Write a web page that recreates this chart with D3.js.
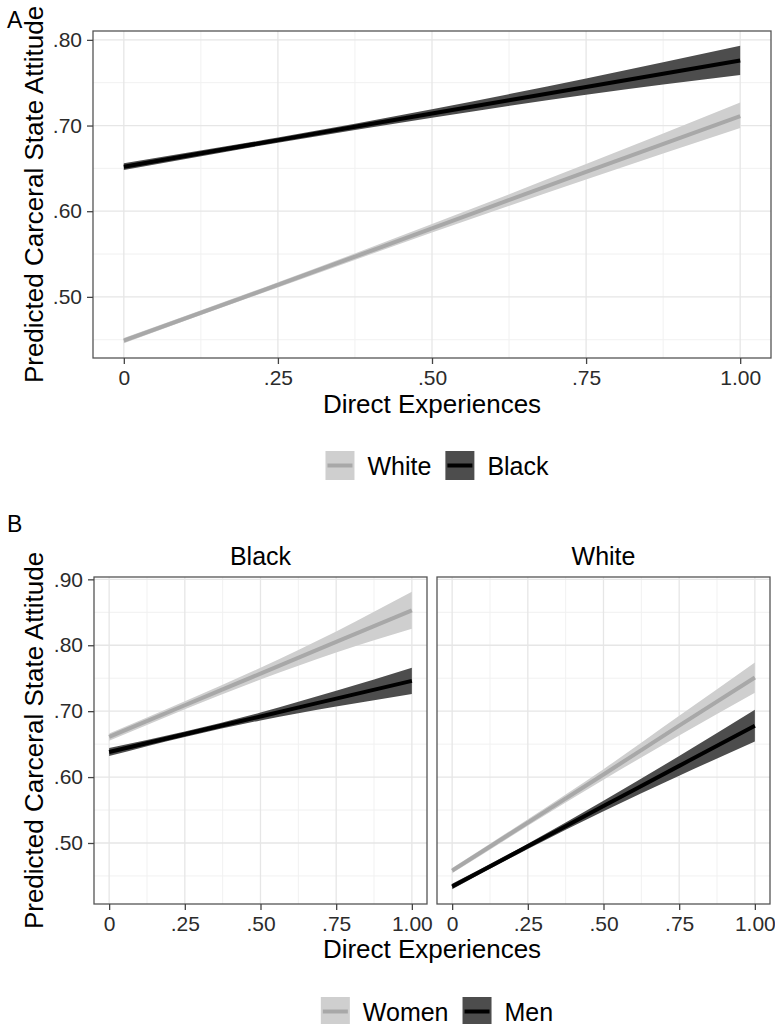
<!DOCTYPE html>
<html>
<head>
<meta charset="utf-8">
<script src="https://cdn.jsdelivr.net/npm/d3@7"></script>
<style>
  body { margin: 0; background: #fff; }
  svg { display: block; font-family: "Liberation Sans", Arial, Helvetica, sans-serif; }
</style>
</head>
<body>
<div id="container"></div>
<script>
/** CONSTANTS AND GLOBALS */
const width = 775,
  height = 1024;

// x positions where the predictions were read
const xPoints = [0, 0.25, 0.5, 0.75, 1];

// panel A : by race
const raceGroups = ["White", "Black"];
const whiteFit = [0.449, 0.514, 0.580, 0.646, 0.711];
const whiteLow = [0.446, 0.511, 0.575, 0.637, 0.697];
const whiteHigh = [0.452, 0.517, 0.585, 0.655, 0.727];
const blackFit = [0.652, 0.683, 0.714, 0.745, 0.776];
const blackLow = [0.648, 0.680, 0.709, 0.736, 0.759];
const blackHigh = [0.656, 0.686, 0.719, 0.755, 0.793];

// panel B : by gender within race
const facets = ["Black", "White"];
const genderGroups = ["Women", "Men"];
const bWomenFit = [0.661, 0.709, 0.757, 0.805, 0.853];
const bWomenLow = [0.655, 0.703, 0.748, 0.789, 0.825];
const bWomenHigh = [0.666, 0.715, 0.766, 0.821, 0.881];
const bMenFit = [0.638, 0.665, 0.692, 0.719, 0.746];
const bMenLow = [0.632, 0.661, 0.686, 0.707, 0.726];
const bMenHigh = [0.644, 0.669, 0.698, 0.731, 0.766];
const wWomenFit = [0.458, 0.531, 0.604, 0.678, 0.751];
const wWomenLow = [0.454, 0.526, 0.596, 0.663, 0.728];
const wWomenHigh = [0.462, 0.536, 0.612, 0.693, 0.774];
const wMenFit = [0.434, 0.495, 0.556, 0.617, 0.678];
const wMenLow = [0.430, 0.491, 0.548, 0.602, 0.654];
const wMenHigh = [0.438, 0.499, 0.564, 0.632, 0.702];

// tick labels
const xTicks = [0, 0.25, 0.5, 0.75, 1];
const xTickLabels = ["0", ".25", ".50", ".75", "1.00"];
const yTicksA = [0.5, 0.6, 0.7, 0.8];
const yTicksB = [0.5, 0.6, 0.7, 0.8, 0.9];

const xTitle = "Direct Experiences";
const yTitle = "Predicted Carceral State Attitude";

const colors = {
  light: { fill: "#cfcfcf", line: "#a8a8a8" },
  dark: { fill: "#4d4d4d", line: "#000000" }
};

let svg;

function makeSeries(fit, low, high) {
  return xPoints.map((x, i) => ({ x: x, fit: fit[i], low: low[i], high: high[i] }));
}

function expand(ext) {
  const pad = (ext[1] - ext[0]) * 0.05;
  return [ext[0] - pad, ext[1] + pad];
}

/** DRAW ONE PANEL */
function drawPanel(box, yDomain, yTicks, series, showY) {
  const x = d3.scaleLinear().domain(expand([0, 1])).range([box.left, box.right]);
  const y = d3.scaleLinear().domain(yDomain).range([box.bottom, box.top]);

  const g = svg.append("g");

  // minor grid
  const xMinor = xTicks.slice(0, -1).map((d, i) => (d + xTicks[i + 1]) / 2);
  const yMinor = [yTicks[0] - 0.05].concat(yTicks.map(d => d + 0.05)).filter(d => d > yDomain[0] && d < yDomain[1]);

  g.selectAll("line.xminor").data(xMinor).join("line")
    .attr("x1", d => x(d)).attr("x2", d => x(d))
    .attr("y1", box.top).attr("y2", box.bottom)
    .attr("stroke", "#f1f1f1").attr("stroke-width", 1);
  g.selectAll("line.yminor").data(yMinor).join("line")
    .attr("y1", d => y(d)).attr("y2", d => y(d))
    .attr("x1", box.left).attr("x2", box.right)
    .attr("stroke", "#f1f1f1").attr("stroke-width", 1);

  // major grid
  g.selectAll("line.xmajor").data(xTicks).join("line")
    .attr("x1", d => x(d)).attr("x2", d => x(d))
    .attr("y1", box.top).attr("y2", box.bottom)
    .attr("stroke", "#e6e6e6").attr("stroke-width", 1.3);
  g.selectAll("line.ymajor").data(yTicks).join("line")
    .attr("y1", d => y(d)).attr("y2", d => y(d))
    .attr("x1", box.left).attr("x2", box.right)
    .attr("stroke", "#e6e6e6").attr("stroke-width", 1.3);

  const area = d3.area()
    .x(d => x(d.x)).y0(d => y(d.low)).y1(d => y(d.high))
    .curve(d3.curveMonotoneX);
  const line = d3.line()
    .x(d => x(d.x)).y(d => y(d.fit))
    .curve(d3.curveMonotoneX);

  g.selectAll("path.ribbon").data(series).join("path")
    .attr("d", d => area(d.values))
    .attr("fill", d => colors[d.tone].fill);
  g.selectAll("path.fit").data(series).join("path")
    .attr("d", d => line(d.values))
    .attr("fill", "none")
    .attr("stroke", d => colors[d.tone].line)
    .attr("stroke-width", 4);

  // border
  g.append("rect")
    .attr("x", box.left).attr("y", box.top)
    .attr("width", box.right - box.left).attr("height", box.bottom - box.top)
    .attr("fill", "none").attr("stroke", "#555").attr("stroke-width", 1.3);

  // x axis
  const xAxis = g.append("g")
    .attr("transform", `translate(0,${box.bottom})`)
    .call(d3.axisBottom(x).tickValues(xTicks).tickFormat((d, i) => xTickLabels[i]).tickSize(6).tickPadding(6))
    .attr("font-family", null);
  xAxis.select(".domain").remove();
  xAxis.selectAll(".tick line").attr("stroke", "#444").attr("stroke-width", 1.3);
  xAxis.selectAll(".tick text").attr("font-size", 21).attr("fill", "#2b2b2b");

  if (showY) {
    const yAxis = g.append("g")
      .attr("transform", `translate(${box.left},0)`)
      .call(d3.axisLeft(y).tickValues(yTicks).tickFormat(d => d3.format(".2f")(d).replace(/^0/, "")).tickSize(6).tickPadding(5))
      .attr("font-family", null);
    yAxis.select(".domain").remove();
    yAxis.selectAll(".tick line").attr("stroke", "#444").attr("stroke-width", 1.3);
    yAxis.selectAll(".tick text").attr("font-size", 21).attr("fill", "#2b2b2b");
  }
  return { x, y };
}

/** LEGEND */
function drawLegend(cx, top, labels, tones) {
  const g = svg.append("g");
  const keySize = 29;
  const items = g.selectAll("g.item").data(labels).join("g");
  items.append("rect")
    .attr("width", keySize).attr("height", keySize)
    .attr("fill", (d, i) => colors[tones[i]].fill);
  items.append("line")
    .attr("x1", 2).attr("x2", keySize - 2)
    .attr("y1", keySize / 2).attr("y2", keySize / 2)
    .attr("stroke", (d, i) => colors[tones[i]].line)
    .attr("stroke-width", 4);
  items.append("text")
    .attr("x", keySize + 13).attr("y", keySize / 2 + 9)
    .attr("font-size", 25)
    .text(d => d);

  let pos = 0;
  const widths = [];
  items.each(function () {
    const w = keySize + 13 + d3.select(this).select("text").node().getComputedTextLength();
    widths.push(w);
  });
  const total = d3.sum(widths) + 14 * (widths.length - 1);
  let start = cx - total / 2;
  items.attr("transform", (d, i) => {
    const t = `translate(${start + pos},${top})`;
    pos += widths[i] + 14;
    return t;
  });
}

/** INITIALIZING FUNCTION */
function init() {
  svg = d3.select("#container").append("svg")
    .attr("width", width).attr("height", height);

  // ---------- panel A ----------
  const seriesA = [
    { name: raceGroups[0], tone: "light", values: makeSeries(whiteFit, whiteLow, whiteHigh) },
    { name: raceGroups[1], tone: "dark", values: makeSeries(blackFit, blackLow, blackHigh) }
  ];
  const extA = expand([d3.min(seriesA, s => d3.min(s.values, d => d.low)),
                       d3.max(seriesA, s => d3.max(s.values, d => d.high))]);
  const boxA = { left: 93, right: 771, top: 31, bottom: 358 };
  drawPanel(boxA, extA, yTicksA, seriesA, true);

  svg.append("text").attr("x", 7).attr("y", 28).attr("font-size", 23).text("A");
  svg.append("text")
    .attr("transform", `translate(43,${(boxA.top + boxA.bottom) / 2}) rotate(-90)`)
    .attr("text-anchor", "middle").attr("font-size", 26).text(yTitle);
  svg.append("text")
    .attr("x", (boxA.left + boxA.right) / 2).attr("y", 413)
    .attr("text-anchor", "middle").attr("font-size", 26).text(xTitle);
  drawLegend(437, 451, raceGroups, ["light", "dark"]);

  // ---------- panel B ----------
  const seriesB = [
    [
      { name: genderGroups[0], tone: "light", values: makeSeries(bWomenFit, bWomenLow, bWomenHigh) },
      { name: genderGroups[1], tone: "dark", values: makeSeries(bMenFit, bMenLow, bMenHigh) }
    ],
    [
      { name: genderGroups[0], tone: "light", values: makeSeries(wWomenFit, wWomenLow, wWomenHigh) },
      { name: genderGroups[1], tone: "dark", values: makeSeries(wMenFit, wMenLow, wMenHigh) }
    ]
  ];
  const allB = seriesB.flat();
  const extB = expand([d3.min(allB, s => d3.min(s.values, d => d.low)),
                       d3.max(allB, s => d3.max(s.values, d => d.high))]);
  const boxesB = [
    { left: 94, right: 427, top: 577, bottom: 904 },
    { left: 437, right: 770, top: 577, bottom: 904 }
  ];
  facets.forEach((f, i) => {
    drawPanel(boxesB[i], extB, yTicksB, seriesB[i], i === 0);
    svg.append("text")
      .attr("x", (boxesB[i].left + boxesB[i].right) / 2).attr("y", 565)
      .attr("text-anchor", "middle").attr("font-size", 25).text(f);
  });

  svg.append("text").attr("x", 7).attr("y", 532).attr("font-size", 23).text("B");
  svg.append("text")
    .attr("transform", `translate(43,${(boxesB[0].top + boxesB[0].bottom) / 2}) rotate(-90)`)
    .attr("text-anchor", "middle").attr("font-size", 26).text(yTitle);
  svg.append("text")
    .attr("x", (boxesB[0].left + boxesB[1].right) / 2).attr("y", 958)
    .attr("text-anchor", "middle").attr("font-size", 26).text(xTitle);
  drawLegend(437, 997, genderGroups, ["light", "dark"]);
}

init();
</script>
</body>
</html>
